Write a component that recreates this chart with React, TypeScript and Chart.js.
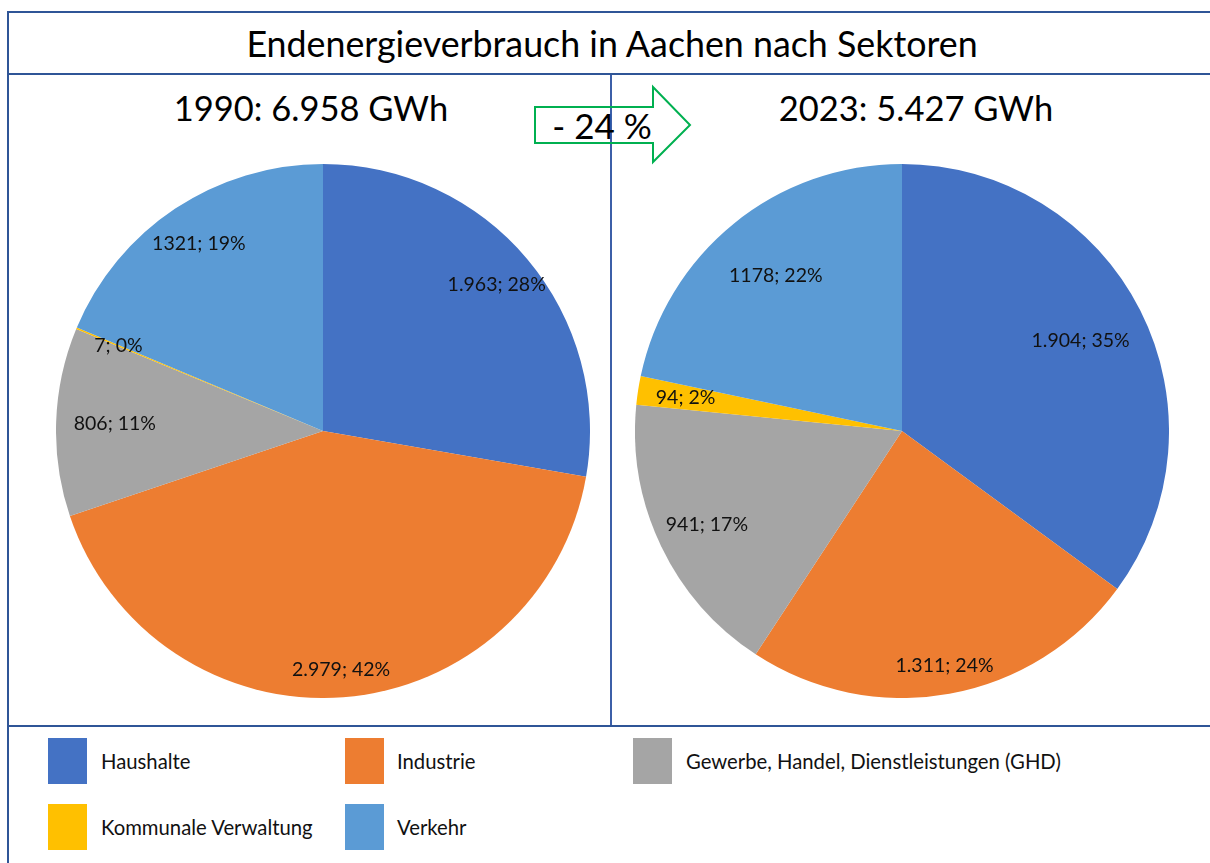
import React, { useEffect, useRef } from "react";
import { Chart, registerables } from "chart.js";

Chart.register(...registerables);

// ---- data ----
const CATEGORIES = [
  "Haushalte",
  "Industrie",
  "Gewerbe, Handel, Dienstleistungen (GHD)",
  "Kommunale Verwaltung",
  "Verkehr",
];
const VALUES_1990 = [1963, 2979, 806, 7, 1321];
const VALUES_2023 = [1904, 1311, 941, 94, 1178];
const VALUE_LABELS_1990 = ["1.963", "2.979", "806", "7", "1321"];
const VALUE_LABELS_2023 = ["1.904", "1.311", "941", "94", "1178"];
const TITLE = "Endenergieverbrauch in Aachen nach Sektoren";
const SUBTITLE_1990 = "1990: 6.958 GWh";
const SUBTITLE_2023 = "2023: 5.427 GWh";
const CHANGE_LABEL = "- 24 %";

// ---- styles ----
const COLORS = ["#4472C4", "#ED7D31", "#A5A5A5", "#FFC000", "#5B9BD5"];
const FRAME = "#2F5597";
const FONT = "Lato, 'Open Sans', sans-serif";
const LABEL_RADIUS_1990 = [0.85, 0.895, 0.78, 0.83, 0.84];
const LABEL_RADIUS_2023 = [0.75, 0.895, 0.81, 0.82, 0.75];
const PIE_SIZE = 534;

function labelPlugin(valueLabels: string[], radii: number[]) {
  return {
    id: "sliceLabels",
    afterDatasetsDraw(chart: any) {
      const ctx = chart.ctx;
      const meta = chart.getDatasetMeta(0);
      const data = chart.data.datasets[0].data as number[];
      const total = data.reduce((a, b) => a + b, 0);
      ctx.save();
      ctx.font = `19.5px ${FONT}`;
      ctx.fillStyle = "#111";
      ctx.textAlign = "center";
      ctx.textBaseline = "middle";
      meta.data.forEach((arc: any, i: number) => {
        const p = arc.getProps(["x", "y", "startAngle", "endAngle", "outerRadius"], true);
        const mid = (p.startAngle + p.endAngle) / 2;
        const r = p.outerRadius * radii[i];
        const x = p.x + Math.cos(mid) * r;
        const y = p.y + Math.sin(mid) * r;
        const pct = Math.round((data[i] / total) * 100);
        ctx.fillText(`${valueLabels[i]}; ${pct}%`, x, y);
      });
      ctx.restore();
    },
  };
}

function Pie({ values, valueLabels, radii, left, top }: any) {
  const ref = useRef<HTMLCanvasElement>(null);
  useEffect(() => {
    if (!ref.current) return;
    const chart = new Chart(ref.current, {
      type: "pie",
      data: {
        labels: CATEGORIES,
        datasets: [
          {
            data: values,
            backgroundColor: COLORS,
            borderWidth: 0,
          },
        ],
      },
      options: {
        responsive: false,
        animation: false,
        layout: { padding: 0 },
        plugins: { legend: { display: false }, tooltip: { enabled: false }, title: { display: false } },
      },
      plugins: [labelPlugin(valueLabels, radii)],
    });
    return () => chart.destroy();
  }, []);
  return (
    <canvas
      ref={ref}
      width={PIE_SIZE}
      height={PIE_SIZE}
      style={{ position: "absolute", left, top, width: PIE_SIZE, height: PIE_SIZE }}
    />
  );
}

const LEGEND_POS = [
  { x: 48, y: 738, tx: 101 },
  { x: 345, y: 738, tx: 397 },
  { x: 633, y: 738, tx: 686 },
  { x: 48, y: 804, tx: 101 },
  { x: 345, y: 804, tx: 397 },
];

export default function App() {
  return (
    <div
      style={{
        position: "absolute",
        left: 0,
        top: 0,
        width: 1210,
        height: 863,
        background: "#fff",
        overflow: "hidden",
        fontFamily: FONT,
        color: "#000",
      }}
    >
      {/* frame */}
      <div style={{ position: "absolute", left: 7, top: 11, width: 1300, height: 1000, border: `2px solid ${FRAME}`, boxSizing: "border-box" }} />
      <div style={{ position: "absolute", left: 7, top: 73, width: 1300, height: 2, background: FRAME }} />
      <div style={{ position: "absolute", left: 7, top: 725, width: 1300, height: 2, background: FRAME }} />
      <div style={{ position: "absolute", left: 610, top: 75, width: 2, height: 650, background: "#3C5FA8" }} />

      {/* title */}
      <div style={{ position: "absolute", left: 0, width: 1224, top: 13, height: 60, display: "flex", alignItems: "center", justifyContent: "center", fontSize: 35.8, whiteSpace: "nowrap" }}>
        {TITLE}
      </div>
      <div style={{ position: "absolute", left: 111, width: 400, top: 82, height: 50, display: "flex", alignItems: "center", justifyContent: "center", fontSize: 34.5, whiteSpace: "nowrap" }}>
        {SUBTITLE_1990}
      </div>
      <div style={{ position: "absolute", left: 716, width: 400, top: 82, height: 50, display: "flex", alignItems: "center", justifyContent: "center", fontSize: 34.5, whiteSpace: "nowrap" }}>
        {SUBTITLE_2023}
      </div>

      {/* arrow */}
      <svg width={1210} height={200} style={{ position: "absolute", left: 0, top: 0 }}>
        <polygon
          points="535,107 653,107 653,87 690,125 653,162 653,143 535,143"
          fill="none"
          stroke="#00B050"
          strokeWidth={2}
        />
      </svg>
      <div style={{ position: "absolute", left: 543, width: 118, top: 105, height: 40, display: "flex", alignItems: "center", justifyContent: "center", fontSize: 35, whiteSpace: "nowrap" }}>
        {CHANGE_LABEL}
      </div>

      <Pie values={VALUES_1990} valueLabels={VALUE_LABELS_1990} radii={LABEL_RADIUS_1990} left={323 - PIE_SIZE / 2} top={164} />
      <Pie values={VALUES_2023} valueLabels={VALUE_LABELS_2023} radii={LABEL_RADIUS_2023} left={902 - PIE_SIZE / 2} top={164} />

      {/* legend */}
      {CATEGORIES.map((c, i) => (
        <React.Fragment key={c}>
          <div style={{ position: "absolute", left: LEGEND_POS[i].x, top: LEGEND_POS[i].y, width: 39, height: 46, background: COLORS[i] }} />
          <div style={{ position: "absolute", left: LEGEND_POS[i].tx, top: LEGEND_POS[i].y, height: 46, display: "flex", alignItems: "center", fontSize: 20.3, whiteSpace: "nowrap", color: "#111" }}>
            {c}
          </div>
        </React.Fragment>
      ))}
    </div>
  );
}
